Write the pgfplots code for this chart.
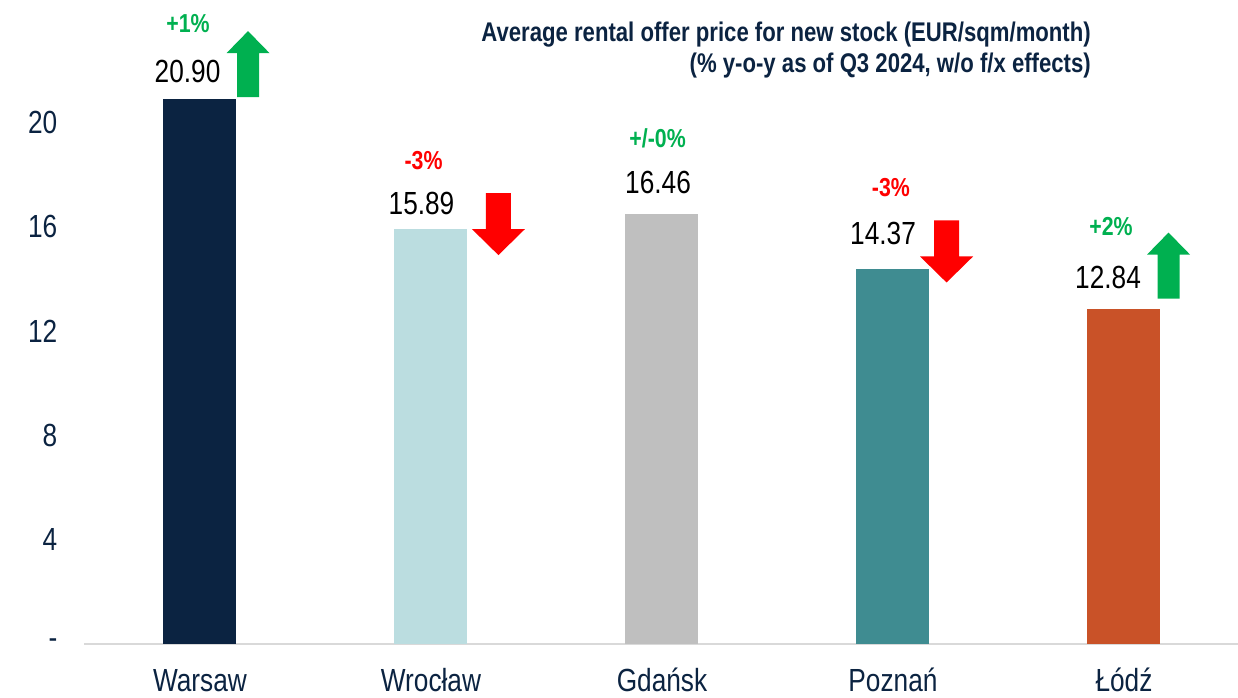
\documentclass[border=0pt]{standalone}
\usepackage{fontspec}
\setmainfont[FakeStretch=0.82]{Liberation Sans}
\usepackage{pgfplots}
\pgfplotsset{compat=1.18}
\definecolor{navy}{HTML}{0B2341}
\definecolor{lightblue}{HTML}{BBDDE0}
\definecolor{midgray}{HTML}{BFBFBF}
\definecolor{teal}{HTML}{3F8C91}
\definecolor{rust}{HTML}{C95228}
\definecolor{upgreen}{HTML}{00B050}
\definecolor{downred}{HTML}{FF0000}
\definecolor{axisgray}{HTML}{D9D9D9}

\pgfdeclareplotmark{uparrow}{%
  \pgfpathmoveto{\pgfpoint{-11pt}{-33pt}}
  \pgfpathlineto{\pgfpoint{11pt}{-33pt}}
  \pgfpathlineto{\pgfpoint{11pt}{11pt}}
  \pgfpathlineto{\pgfpoint{21.5pt}{11pt}}
  \pgfpathlineto{\pgfpoint{0pt}{33pt}}
  \pgfpathlineto{\pgfpoint{-21.5pt}{11pt}}
  \pgfpathlineto{\pgfpoint{-11pt}{11pt}}
  \pgfpathclose
  \pgfusepathqfill}
\pgfdeclareplotmark{downarrow}{%
  \pgfpathmoveto{\pgfpoint{-12.5pt}{31pt}}
  \pgfpathlineto{\pgfpoint{12.5pt}{31pt}}
  \pgfpathlineto{\pgfpoint{12.5pt}{-5pt}}
  \pgfpathlineto{\pgfpoint{26.5pt}{-5pt}}
  \pgfpathlineto{\pgfpoint{0pt}{-31pt}}
  \pgfpathlineto{\pgfpoint{-26.5pt}{-5pt}}
  \pgfpathlineto{\pgfpoint{-12.5pt}{-5pt}}
  \pgfpathclose
  \pgfusepathqfill}

\begin{document}
\begin{tikzpicture}
\useasboundingbox (-84.5pt,-53pt) rectangle (1153.5pt,644pt);
\begin{axis}[
  at={(0,0)}, anchor=south west,
  scale only axis,
  width=1155pt, height=642pt,
  xmin=-0.5, xmax=4.5,
  ymin=0, ymax=24.6,
  axis x line*=bottom, axis y line*=left,
  x axis line style={draw=axisgray, line width=1.5pt, -},
  y axis line style={draw=none},
  major tick length=0pt,
  xtick={0,1,2,3,4},
  xticklabels={Warsaw,Wrocław,Gdańsk,Poznań,Łódź},
  ytick={0,4,8,12,16,20},
  yticklabels={-,4,8,12,16,20},
  tick label style={font=\fontsize{32}{36}\selectfont, text=navy},
  xticklabel style={anchor=base, inner sep=0pt, yshift=-47pt},
  yticklabel style={anchor=east, inner sep=0pt, xshift=-27pt},
  ybar, bar width=73pt, bar shift=0pt,
  clip=false,
]
  \addplot[draw=none, fill=navy] coordinates {(0,20.90)};
  \addplot[draw=none, fill=lightblue] coordinates {(1,15.89)};
  \addplot[draw=none, fill=midgray] coordinates {(2,16.46)};
  \addplot[draw=none, fill=teal] coordinates {(3,14.37)};
  \addplot[draw=none, fill=rust] coordinates {(4,12.84)};

  % value labels
  \addplot[draw=none, mark=none, only marks,
    nodes near coords, point meta=explicit symbolic,
    nodes near coords style={anchor=base, inner sep=0pt, text=black,
      font=\fontsize{32}{36}\selectfont}]
    coordinates {
      (-0.054,21.53) [20.90]
      (0.959,16.44) [15.89]
      (1.983,17.28) [16.46]
      (2.957,15.29) [14.37]
      (3.931,13.64) [12.84]
    };
  % y-o-y labels, green
  \addplot[draw=none, mark=none, only marks,
    nodes near coords, point meta=explicit symbolic,
    nodes near coords style={anchor=base, inner sep=0pt, text=upgreen,
      font=\fontsize{26}{29}\selectfont\bfseries}]
    coordinates {
      (-0.052,23.45) [+1\%]
      (1.981,19.04) [+/-0\%]
      (3.944,15.67) [+2\%]
    };
  % y-o-y labels, red
  \addplot[draw=none, mark=none, only marks,
    nodes near coords, point meta=explicit symbolic,
    nodes near coords style={anchor=base, inner sep=0pt, text=downred,
      font=\fontsize{26}{29}\selectfont\bfseries}]
    coordinates {
      (0.968,18.20) [-3\%]
      (2.991,17.13) [-3\%]
    };
  % arrows
  \addplot[only marks, mark=uparrow, color=upgreen]
    coordinates {(0.208,22.22) (4.193,14.50)};
  \addplot[only marks, mark=downarrow, color=downred]
    coordinates {(1.292,16.09) (3.232,15.04)};
\end{axis}
\node[anchor=base east, inner sep=0pt, text=navy,
  font=\fontsize{27}{31}\selectfont\bfseries] at (1006.5pt,602pt)
  {Average rental offer price for new stock (EUR/sqm/month)};
\node[anchor=base east, inner sep=0pt, text=navy,
  font=\fontsize{27}{31}\selectfont\bfseries] at (1006.5pt,571pt)
  {(\% y-o-y as of Q3 2024, w/o f/x effects)};
\end{tikzpicture}
\end{document}
